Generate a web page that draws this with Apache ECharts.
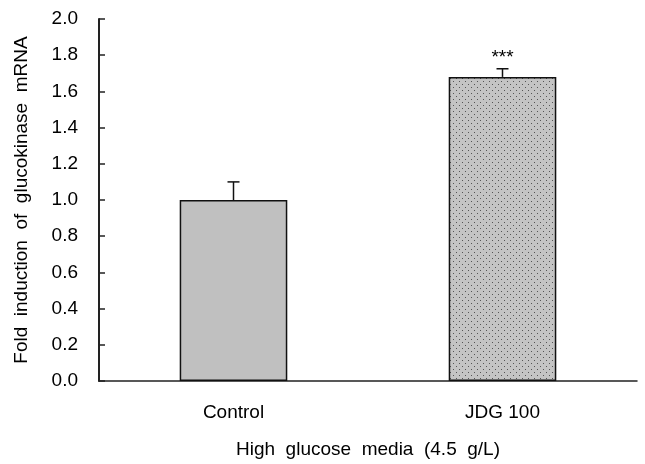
<!DOCTYPE html>
<html><head><meta charset="utf-8">
<script src="https://cdn.jsdelivr.net/npm/echarts@6/dist/echarts.min.js"></script>
<style>html,body{margin:0;padding:0;background:#fff}#c{width:645px;height:464px}</style>
</head><body><div id="c"></div>
<script>
var categories = ['Control', 'JDG 100'];
var values = [1.00, 1.68];
var errors = [0.10, 0.045];
var significance = ['', '***'];
var yTicks = [0.0, 0.2, 0.4, 0.6, 0.8, 1.0, 1.2, 1.4, 1.6, 1.8, 2.0];

function dotPattern() {
  var c = document.createElement('canvas');
  c.width = 6; c.height = 6;
  var g = c.getContext('2d');
  g.fillStyle = '#c4c4c4'; g.fillRect(0, 0, 6, 6);
  g.fillStyle = '#555';
  g.fillRect(0, 0, 1, 1);
  g.fillRect(3, 3, 1, 1);
  return c;
}

var font = 'Liberation Sans, Arial, sans-serif';
var chart = echarts.init(document.getElementById('c'), null, {renderer: 'canvas'});
chart.setOption({
  animation: false,
  grid: {left: 99, right: 8, top: 19, bottom: 82},
  xAxis: {
    type: 'category', data: categories, boundaryGap: true,
    name: 'High  glucose  media  (4.5  g/L)', nameLocation: 'middle', nameGap: 59,
    nameTextStyle: {fontFamily: font, fontSize: 19, color: '#000'},
    axisLine: {lineStyle: {color: '#222', width: 1.5}},
    axisTick: {inside: true, length: 6, lineStyle: {color: '#222', width: 1.5}},
    axisLabel: {fontFamily: font, fontSize: 19, color: '#000', margin: 22}
  },
  yAxis: {
    type: 'value', min: yTicks[0], max: yTicks[yTicks.length - 1], interval: 0.2,
    name: 'Fold  induction  of  glucokinase  mRNA', nameLocation: 'middle', nameGap: 68,
    nameTextStyle: {fontFamily: font, fontSize: 19, color: '#000'},
    axisLine: {show: true, lineStyle: {color: '#222', width: 2}},
    axisTick: {show: true, inside: true, length: 6, lineStyle: {color: '#222', width: 1.5}},
    splitLine: {show: false},
    axisLabel: {fontFamily: font, fontSize: 19, color: '#000', margin: 21,
      formatter: function (v) { return v.toFixed(1); }}
  },
  series: [{
    type: 'bar', barWidth: '40%',
    data: values.map(function (v, i) {
      return {value: v, itemStyle: {color: i === 0 ? '#c0c0c0' : {image: dotPattern(), repeat: 'repeat'}}};
    }),
    itemStyle: {borderColor: '#111', borderWidth: 1.5},
    z: 2
  }, {
    type: 'custom',
    data: values.map(function (v, i) { return [i, v, v + errors[i]]; }),
    renderItem: function (params, api) {
      var i = api.value(0);
      var lo = api.coord([i, api.value(1)]);
      var hi = api.coord([i, api.value(2)]);
      var w = 6;
      var children = [
        {type: 'line', shape: {x1: lo[0], y1: lo[1], x2: hi[0], y2: hi[1]}, style: {stroke: '#111', lineWidth: 1.5}},
        {type: 'line', shape: {x1: hi[0] - w, y1: hi[1], x2: hi[0] + w, y2: hi[1]}, style: {stroke: '#111', lineWidth: 1.5}}
      ];
      if (significance[i]) {
        children.push({type: 'text', style: {text: significance[i], x: hi[0], y: hi[1] - 2, align: 'center', verticalAlign: 'bottom',
          font: '19px ' + font, fill: '#000'}});
      }
      return {type: 'group', children: children};
    },
    z: 3
  }]
});
</script></body></html>
